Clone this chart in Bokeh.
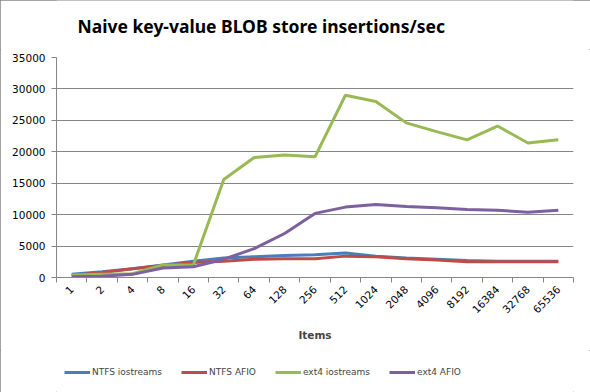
import math
from bokeh.plotting import figure
from bokeh.layouts import column
from bokeh.models import FixedTicker, Range1d, Legend, LegendItem, Label
from bokeh.embed import file_html
from bokeh.resources import INLINE

title_text = "Naive key-value BLOB store insertions/sec"
items = ["1", "2", "4", "8", "16", "32", "64", "128", "256", "512", "1024",
         "2048", "4096", "8192", "16384", "32768", "65536"]
ntfs_iostreams = [500, 900, 1400, 2000, 2600, 3100, 3300, 3500, 3600, 3900, 3400,
                  3100, 2900, 2700, 2600, 2600, 2600]
ntfs_afio = [300, 800, 1400, 1900, 2400, 2600, 2900, 3000, 3000, 3400, 3300,
             3000, 2800, 2500, 2500, 2500, 2500]
ext4_iostreams = [400, 500, 600, 2000, 2000, 15600, 19100, 19500, 19200, 29000, 28000,
                  24600, 23200, 21900, 24100, 21400, 21900]
ext4_afio = [100, 200, 500, 1500, 1700, 2900, 4600, 7000, 10200, 11200, 11600,
             11300, 11100, 10800, 10700, 10400, 10700]
series_names = ["NTFS iostreams", "NTFS AFIO", "ext4 iostreams", "ext4 AFIO"]
colors = ["#4A7EBB", "#BE4B48", "#98B954", "#7D60A0"]
y_ticks = [0, 5000, 10000, 15000, 20000, 25000, 30000, 35000]

xs = list(range(len(items)))
series = [ntfs_iostreams, ntfs_afio, ext4_iostreams, ext4_afio]

grey = "#868686"
font = "DejaVu Sans"

# title strip
tt = figure(width=590, height=49, output_backend="svg", toolbar_location=None,
            x_range=Range1d(56, 573), y_range=Range1d(0, 49),
            x_axis_location=None, y_axis_location=None,
            min_border_left=56, min_border_right=17, min_border_top=0, min_border_bottom=0)
tt.grid.visible = False
tt.outline_line_color = None
tt.border_fill_color = "white"
tt.add_layout(Label(x=77, y=24, text=title_text, text_font="Noto Sans",
                    text_font_style="bold", text_font_size="17.5px",
                    text_color="black", text_baseline="alphabetic", text_align="left"))

# main chart
p = figure(width=590, height=301, output_backend="svg", toolbar_location=None,
           x_range=Range1d(-0.5, len(items) - 0.5), y_range=Range1d(0, 35000),
           min_border_left=56, min_border_right=17, min_border_top=8, min_border_bottom=73)
p.outline_line_color = None
p.background_fill_color = "white"
p.border_fill_color = "white"

p.yaxis.ticker = FixedTicker(ticks=y_ticks)
p.yaxis.axis_line_color = grey
p.yaxis.major_tick_line_color = grey
p.yaxis.major_tick_out = 5
p.yaxis.major_tick_in = 0
p.yaxis.minor_tick_line_color = None
p.yaxis.major_label_text_font = font
p.yaxis.major_label_text_font_size = "10.5px"
p.yaxis.major_label_text_color = "black"
p.yaxis.major_label_standoff = 6
p.ygrid.grid_line_color = grey
p.ygrid.ticker = FixedTicker(ticks=y_ticks)

p.xaxis.ticker = FixedTicker(ticks=xs, minor_ticks=[i - 0.5 for i in range(len(items) + 1)])
p.xaxis.major_label_overrides = {i: lab for i, lab in enumerate(items)}
p.xaxis.major_tick_out = 0
p.xaxis.major_tick_in = 0
p.xaxis.minor_tick_out = 5
p.xaxis.minor_tick_in = 0
p.xaxis.minor_tick_line_color = grey
p.xaxis.axis_line_color = grey
p.xaxis.major_label_orientation = math.pi / 4
p.xaxis.major_label_text_font = font
p.xaxis.major_label_text_font_size = "10.5px"
p.xaxis.major_label_text_color = "black"
p.xaxis.major_label_standoff = 5
p.xaxis.axis_label = "Items"
p.xaxis.axis_label_text_font = font
p.xaxis.axis_label_text_font_style = "bold"
p.xaxis.axis_label_text_font_size = "10.5px"
p.xaxis.axis_label_standoff = 9
p.xgrid.grid_line_color = None

for vals, c in zip(series, colors):
    p.line(xs, vals, line_color=c, line_width=3)

# legend strip below the chart
lg = figure(width=590, height=42, output_backend="svg", toolbar_location=None,
            x_range=Range1d(0, 1), y_range=Range1d(0, 1),
            x_axis_location=None, y_axis_location=None,
            min_border_left=56, min_border_right=17, min_border_top=0, min_border_bottom=0)
lg.grid.visible = False
lg.outline_line_color = None
lg.border_fill_color = "white"
lg_renderers = [lg.line([5, 6], [5, 6], line_color=c, line_width=3) for c in colors]
legend = Legend(items=[LegendItem(label=n, renderers=[r]) for n, r in zip(series_names, lg_renderers)],
                orientation="horizontal", location=(8, 14),
                label_text_font=font, label_text_font_size="9px",
                glyph_width=26, glyph_height=12, label_height=12, label_standoff=2, spacing=19,
                border_line_color=None, background_fill_alpha=0,
                margin=0, padding=0)
lg.add_layout(legend)

layout = column(tt, p, lg, spacing=0)
layout.styles = {"outline": "1px solid #868686", "outline-offset": "-1px"}

open("out.html", "w").write(file_html(layout, INLINE))
